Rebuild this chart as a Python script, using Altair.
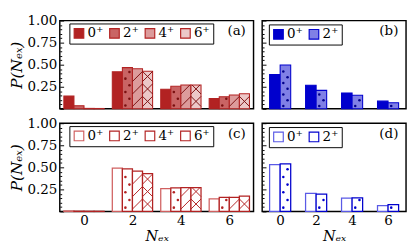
import altair as alt
import numpy as np
import pandas as pd

# ---------------- data ----------------
N_EX = [0, 2, 4, 6]
STATES_4 = ["0⁺", "2⁺", "4⁺", "6⁺"]
STATES_2 = ["0⁺", "2⁺"]

A_0 = [0.145, 0.420, 0.222, 0.118]
A_2 = [0.036, 0.467, 0.255, 0.137]
A_4 = [0.005, 0.454, 0.270, 0.157]
A_6 = [0.004, 0.425, 0.270, 0.170]

B_0 = [0.390, 0.268, 0.180, 0.088]
B_2 = [0.497, 0.209, 0.154, 0.069]

C_0 = [0.006, 0.490, 0.258, 0.144]
C_2 = [0.003, 0.483, 0.268, 0.160]
C_4 = [0.002, 0.457, 0.270, 0.160]
C_6 = [0.002, 0.430, 0.270, 0.173]

D_0 = [0.530, 0.206, 0.150, 0.065]
D_2 = [0.540, 0.196, 0.155, 0.078]

Y_LABEL_TICKS = [0.25, 0.5, 0.75, 1.0]
Y_ALL_TICKS = [round(0.05 * i, 2) for i in range(21)]
X_TICKS = [0, 2, 4, 6]

# ---------------- style ----------------
FONT = "DejaVu Serif"
RED = "#b22222"
RED_FILLS = ["#b22222", "#c96464", "#dc9b9b", "#ecc8c8"]
RED_HOLLOW = ["#d06060", RED, RED, RED]
BLUE = "#0000cd"
BLUE_FILLS = ["#0000cd", "#8080e6"]
BLUE_HOLLOW = ["#5a5ae6", BLUE]

X_DOMAIN = [-1, 7]
W_L, W_R, H = 202, 150, 92
HATCH = 13.0


def panel(vals_list, labels, colors, hollow, edge, W, bar_px, tag,
          y_labels, x_labels, legend_xy, patterns, dot_step, pat_color):
    upx = W / (X_DOMAIN[1] - X_DOMAIN[0])
    bw = bar_px / upx
    n = len(labels)
    rows = []
    for k, (lab, vals) in enumerate(zip(labels, vals_list)):
        for N, v in zip(N_EX, vals):
            x0 = N + (k - n / 2) * bw
            rows.append({"N": N, "state": lab, "x0": x0, "x1": x0 + bw,
                         "v": v, "base": 0.0, "pat": patterns[k]})
    df = pd.DataFrame(rows)

    dot_rows, seg_rows = [], []
    for r in df.itertuples():
        hpx = r.v * H
        if r.pat == "dots":
            y, i = dot_step / 2, 0
            while y < hpx - 1.5:
                frac = 0.3 if i % 2 == 0 else 0.7
                dot_rows.append({"x": r.x0 + frac * bw, "y": y / H})
                y += dot_step
                i += 1
        if r.pat in ("slash", "cross"):
            for c in np.arange(-bar_px, hpx, HATCH):
                lo, hi = max(0.0, -c), min(bar_px, hpx - c)
                if hi - lo > 0.8:
                    seg_rows.append({"x": r.x0 + lo / upx, "y": (lo + c) / H,
                                     "x2": r.x0 + hi / upx, "y2": (hi + c) / H})
        if r.pat == "cross":
            for c in np.arange(0.0, hpx + bar_px, HATCH):
                lo, hi = max(0.0, c - hpx), min(bar_px, c)
                if hi - lo > 0.8:
                    seg_rows.append({"x": r.x0 + lo / upx, "y": (c - lo) / H,
                                     "x2": r.x0 + hi / upx, "y2": (c - hi) / H})

    xs = alt.Scale(domain=X_DOMAIN, nice=False, zero=False)
    ys = alt.Scale(domain=[0, 1], nice=False)

    legend = alt.Legend(
        title=None, orient="none", legendX=legend_xy[0], legendY=legend_xy[1],
        direction="horizontal", columns=n, symbolType="square", symbolSize=100,
        labelFont=FONT, labelFontSize=14, labelOffset=2, columnPadding=3,
        padding=3, strokeColor="black", fillColor="white", cornerRadius=0,
        symbolStrokeWidth=1.2,
        **({"symbolFillColor": "white"} if hollow else {"symbolStrokeColor": edge}),
    )
    cscale = alt.Scale(domain=labels, range=colors)

    if x_labels:
        xaxis = alt.Axis(values=X_TICKS, ticks=False, domain=False, grid=False,
                         labelFont=FONT, labelFontSize=14, labelPadding=3,
                         title="Nₑₓ", titleFont=FONT, titleFontSize=15,
                         titleFontStyle="italic", titleFontWeight="normal",
                         titlePadding=1)
    else:
        xaxis = None

    tick_axis = alt.Axis(orient="right", offset=-W, values=Y_ALL_TICKS,
                         labels=False, domain=False, grid=False, title=None,
                         tickColor="black", tickWidth=1,
                         tickSize={"condition": {"test": "abs(datum.value*4 - round(datum.value*4)) < 0.001",
                                                 "value": 4}, "value": 2})

    if hollow:
        bars = alt.Chart(df).mark_bar(fill="white", strokeWidth=1.3).encode(
            stroke=alt.Stroke("state:N", scale=cscale, legend=legend))
    else:
        bars = alt.Chart(df).mark_bar(stroke=edge, strokeWidth=1.1).encode(
            fill=alt.Fill("state:N", scale=cscale, legend=legend))
    bars = bars.encode(
        x=alt.X("x0:Q", scale=xs, axis=xaxis),
        x2="x1:Q",
        y=alt.Y("v:Q", scale=ys, axis=tick_axis),
        y2="base:Q",
    )

    layers = [bars]
    if dot_rows:
        layers.append(alt.Chart(pd.DataFrame(dot_rows)).mark_circle(
            size=7, color=pat_color, opacity=1).encode(
            x=alt.X("x:Q", scale=xs, axis=None), y=alt.Y("y:Q", scale=ys, axis=None)))
    if seg_rows:
        layers.append(alt.Chart(pd.DataFrame(seg_rows)).mark_rule(
            color=pat_color, strokeWidth=1).encode(
            x=alt.X("x:Q", scale=xs, axis=None), x2="x2:Q",
            y=alt.Y("y:Q", scale=ys, axis=None), y2="y2:Q"))
    if y_labels:
        layers.append(alt.Chart(df).mark_bar(opacity=0).encode(
            x=alt.X("x0:Q", scale=xs, axis=None), x2="x1:Q",
            y=alt.Y("v:Q", scale=ys, axis=alt.Axis(
                orient="left", values=Y_LABEL_TICKS, format=".2f", ticks=False,
                domain=False, grid=False, labelFont=FONT, labelFontSize=14,
                labelPadding=3, title="P(Nₑₓ)", titleFont=FONT, titleFontSize=16,
                titleFontStyle="italic", titleFontWeight="normal", titlePadding=3)),
            y2="base:Q"))
    layers.append(alt.Chart(pd.DataFrame({"t": [tag]})).mark_text(
        align="right", baseline="middle", font=FONT, fontSize=14, color="black").encode(
        text="t:N", x=alt.value(W - 8), y=alt.value(11)))

    return alt.layer(*layers).resolve_axis(x="independent", y="independent").properties(
        width=W, height=H)


pa = panel([A_0, A_2, A_4, A_6], STATES_4, RED_FILLS, False, RED, W_L, 10.5, "(a)",
           True, False, (10, 3), [None, "dots", "slash", "cross"], 7, "#7a1010")
pb = panel([B_0, B_2], STATES_2, BLUE_FILLS, False, BLUE, W_R, 11, "(b)",
           False, False, (7, 4), [None, "dots"], 6, "#00008b")
pc = panel([C_0, C_2, C_4, C_6], STATES_4, RED_HOLLOW, True, RED, W_L, 10.5, "(c)",
           True, True, (10, 3), [None, "dots", "slash", "cross"], 8, RED)
pd_ = panel([D_0, D_2], STATES_2, BLUE_HOLLOW, True, BLUE, W_R, 11, "(d)",
            False, True, (7, 4), [None, "dots"], 8, BLUE)

top = alt.hconcat(pa, pb, spacing=6).resolve_scale(fill="independent", stroke="independent")
bottom = alt.hconcat(pc, pd_, spacing=6).resolve_scale(fill="independent", stroke="independent")

chart = alt.vconcat(top, bottom, spacing=5).resolve_scale(
    fill="independent", stroke="independent"
).properties(
    padding={"left": 0, "top": 0, "right": 0, "bottom": 0}
).configure_view(
    stroke="black", strokeWidth=1.5
)

chart.save("out.html", embed_options={"renderer": "svg", "actions": False})
